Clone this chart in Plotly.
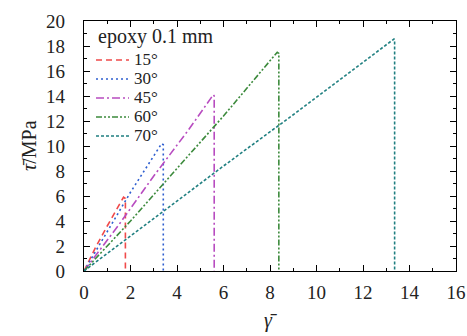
import plotly.graph_objects as go

names = ["15°", "30°", "45°", "60°", "70°"]
legend_title = "epoxy 0.1 mm"
x_title = "<i>γ̄</i>"
y_title = "<i>τ̄</i>/MPa"
x15 = [0, 0.5, 1.0, 1.70, 1.78, 1.78]
y15 = [0, 1.9, 3.6, 5.9, 5.8, 0]
x30 = [0, 1.0, 2.0, 3.34, 3.41, 3.41]
y30 = [0, 3.2, 6.3, 10.2, 10.1, 0]
x45 = [0, 1.5, 3.0, 4.5, 5.56, 5.60, 5.60]
y45 = [0, 3.7, 7.6, 11.3, 14.1, 14.0, 0]
x60 = [0, 2.0, 4.0, 6.0, 8.31, 8.38, 8.38]
y60 = [0, 4.0, 8.2, 12.4, 17.5, 17.4, 0]
x70 = [0, 3.0, 6.0, 9.0, 13.33, 13.36, 13.36]
y70 = [0, 4.2, 8.4, 12.5, 18.56, 18.5, 0]

xs = [x15, x30, x45, x60, x70]
ys = [y15, y30, y45, y60, y70]
colors = ["#f04a4a", "#2f5fd0", "#b84cc0", "#3c8a3c", "#1f7f80"]
dashes = ["6px,4px", "2px,3px", "8px,3px,2px,3px", "6px,2px,2px,2px,2px,2px", "3px,2px"]

# plot-area geometry in window pixels (body margin removed via post_script)
L, R, T, B = 84, 456, 21, 271
W, H = 467, 336

def px2paper(px, py):
    return (px - L) / (R - L), (B - py) / (B - T)

fig = go.Figure()
for n, x, y, c, d in zip(names, xs, ys, colors, dashes):
    fig.add_trace(go.Scatter(x=x, y=y, mode="lines", name=n, showlegend=False,
                             line=dict(color=c, width=1.6, dash=d)))

font = "Liberation Serif, Times New Roman, serif"
txtcol = "#222"

shapes = []
annotations = []
# manual legend (tight spacing like the reference)
tx, ty = px2paper(96, 37)
annotations.append(dict(x=tx, y=ty, xref="paper", yref="paper", text=legend_title,
                        showarrow=False, xanchor="left", yanchor="middle",
                        font=dict(family=font, size=20, color=txtcol)))
for i, (n, c, d) in enumerate(zip(names, colors, dashes)):
    cy = 59 + i * 19
    x0, y0 = px2paper(96, cy + 1)
    x1, _ = px2paper(129, cy + 1)
    shapes.append(dict(type="line", xref="paper", yref="paper", x0=x0, x1=x1, y0=y0, y1=y0,
                       line=dict(color=c, width=1.6, dash=d)))
    ax_, ay_ = px2paper(132, cy)
    annotations.append(dict(x=ax_, y=ay_, xref="paper", yref="paper", text=n,
                            showarrow=False, xanchor="left", yanchor="middle",
                            font=dict(family=font, size=17, color=txtcol)))

# axis titles
ax_, ay_ = px2paper(270, 320)
annotations.append(dict(x=ax_, y=ay_, xref="paper", yref="paper", text=x_title,
                        showarrow=False, xanchor="center", yanchor="middle",
                        font=dict(family=font, size=20, color=txtcol)))
ax_, ay_ = px2paper(29, 146)
annotations.append(dict(x=ax_, y=ay_, xref="paper", yref="paper", text=y_title,
                        showarrow=False, xanchor="center", yanchor="middle", textangle=-90,
                        font=dict(family=font, size=20, color=txtcol)))

axis_common = dict(showline=True, linecolor="black", linewidth=1.2, mirror="ticks",
                   ticks="inside", ticklen=6, tickcolor="black", showgrid=False,
                   zeroline=False, automargin=False,
                   tickfont=dict(family=font, size=19, color=txtcol),
                   minor=dict(ticks="inside", ticklen=3, tickcolor="black"))
fig.update_layout(
    width=W, height=H,
    margin=dict(l=L, r=W - R, t=T, b=H - B),
    paper_bgcolor="white", plot_bgcolor="white",
    font=dict(family=font, size=18, color=txtcol),
    showlegend=False,
    shapes=shapes, annotations=annotations,
    xaxis=dict(range=[0, 16], dtick=2, minor_dtick=1, ticklabelstandoff=4, **axis_common),
    yaxis=dict(range=[0, 20], dtick=2, minor_dtick=1, ticklabelstandoff=14, **axis_common),
)
fig.write_html("out.html", config={"displayModeBar": False},
               post_script="document.body.style.margin='0';document.body.style.overflow='hidden';")
